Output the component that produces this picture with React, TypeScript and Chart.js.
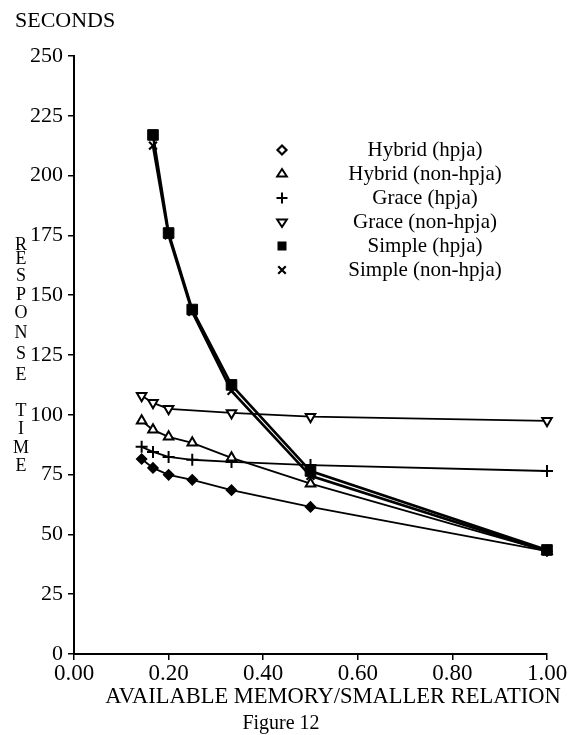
import React, { useEffect, useRef } from "react";
import { Chart, registerables } from "chart.js";

Chart.register(...registerables);

const W = 574;
const H = 735;
const SERIF = "'Liberation Serif', 'Times New Roman', serif";

// ---- data ----
const xValues = [0.143, 0.167, 0.2, 0.25, 0.333, 0.5, 1.0];
const hybridHpja = [81.5, 77.8, 74.9, 72.8, 68.5, 61.5, 43];
const hybridNonHpja = [97.5, 93.7, 90.8, 88.3, 82, 71.2, 43];
const graceHpja = [86.6, 84.5, 82.4, 81.2, 80.3, 79, 76.5];
const graceNonHpjaX = [0.143, 0.167, 0.2, 0.333, 0.5, 1.0];
const graceNonHpja = [108, 105, 102.5, 100.8, 99.2, 97.5];
const simpleX = [0.167, 0.2, 0.25, 0.333, 0.5, 1.0];
const simpleHpja = [217, 176, 144, 112.5, 76.5, 43.5];
const simpleNonHpja = [212.5, 175, 143, 110, 74.5, 43];

const yTicks = [0, 25, 50, 75, 100, 125, 150, 175, 200, 225, 250];
const xTicks = [0, 0.2, 0.4, 0.6, 0.8, 1.0];

const seriesNames = [
  "Hybrid (hpja)",
  "Hybrid (non-hpja)",
  "Grace (hpja)",
  "Grace (non-hpja)",
  "Simple (hpja)",
  "Simple (non-hpja)",
];
const yTitleLetters = ["R", "E", "S", "P", "O", "N", "S", "E", "T", "I", "M", "E"];
const yTitleLetterY = [245, 259, 276, 295, 313, 333, 354, 375, 411, 429, 448, 466];

const toPts = (xs: number[], ys: number[]) => xs.map((x, i) => ({ x, y: ys[i] }));

type MarkerStyle = {
  pointStyle: any;
  radius: number;
  fill: string;
  border: number;
  rotation?: number;
};

const markers: MarkerStyle[] = [
  { pointStyle: "rectRot", radius: 5, fill: "#000", border: 1.5 },
  { pointStyle: "triangle", radius: 5.5, fill: "#fff", border: 2 },
  { pointStyle: "cross", radius: 6, fill: "#000", border: 2 },
  { pointStyle: "triangle", radius: 5.5, fill: "#fff", border: 2, rotation: 180 },
  { pointStyle: "rect", radius: 7.5, fill: "#000", border: 1 },
  { pointStyle: "crossRot", radius: 5.5, fill: "#000", border: 2.2 },
];

function drawMarker(
  ctx: CanvasRenderingContext2D,
  style: string,
  r: number,
  rotation: number,
  x: number,
  y: number
) {
  ctx.beginPath();
  if (style === "rectRot") {
    ctx.moveTo(x, y - r);
    ctx.lineTo(x + r, y);
    ctx.lineTo(x, y + r);
    ctx.lineTo(x - r, y);
    ctx.closePath();
    ctx.fill();
    ctx.stroke();
  } else if (style === "triangle") {
    const dir = rotation === 180 ? -1 : 1;
    const h = r * 1.5;
    const half = r * 0.866;
    ctx.moveTo(x, y - dir * r);
    ctx.lineTo(x + half + 0.5, y + dir * (h - r));
    ctx.lineTo(x - half - 0.5, y + dir * (h - r));
    ctx.closePath();
    ctx.fill();
    ctx.stroke();
  } else if (style === "cross") {
    ctx.moveTo(x - r, y);
    ctx.lineTo(x + r, y);
    ctx.moveTo(x, y - r);
    ctx.lineTo(x, y + r);
    ctx.stroke();
  } else if (style === "crossRot") {
    const d = r * 0.75;
    ctx.moveTo(x - d, y - d);
    ctx.lineTo(x + d, y + d);
    ctx.moveTo(x + d, y - d);
    ctx.lineTo(x - d, y + d);
    ctx.stroke();
  } else if (style === "rect") {
    const s = r * 0.75;
    ctx.rect(x - s, y - s, 2 * s, 2 * s);
    ctx.fill();
  }
}

const decorPlugin = {
  id: "decor",
  afterDraw(chart: any) {
    const ctx: CanvasRenderingContext2D = chart.ctx;
    ctx.save();
    ctx.fillStyle = "#000";
    ctx.textBaseline = "middle";

    // top-left unit label
    ctx.font = `22px ${SERIF}`;
    ctx.textAlign = "left";
    ctx.fillText("SECONDS", 15, 21);

    // vertical stacked y-title
    ctx.font = `18px ${SERIF}`;
    ctx.textAlign = "center";
    yTitleLetters.forEach((ch, i) => ctx.fillText(ch, 21, yTitleLetterY[i]));

    // x-axis title & figure caption
    ctx.font = `22.5px ${SERIF}`;
    ctx.fillText("AVAILABLE MEMORY/SMALLER RELATION", 333, 697);
    ctx.font = `20px ${SERIF}`;
    ctx.fillText("Figure 12", 281, 724);

    // legend
    const legendY = [150, 174, 198, 222, 246, 270];
    seriesNames.forEach((name, i) => {
      const m = markers[i];
      ctx.save();
      ctx.lineWidth = i === 0 ? 2.2 : m.border;
      ctx.strokeStyle = "#000";
      ctx.fillStyle = i === 0 ? "#fff" : m.fill;
      const legendRadius = i === 4 ? 6 : m.radius - 0.5;
      drawMarker(ctx, m.pointStyle, legendRadius, m.rotation || 0, 282, legendY[i]);
      ctx.restore();
      ctx.font = `21px ${SERIF}`;
      ctx.textAlign = "center";
      ctx.fillStyle = "#000";
      ctx.fillText(name, 425, legendY[i]);
    });
    ctx.restore();
  },
};

export default function App() {
  const canvasRef = useRef<HTMLCanvasElement | null>(null);

  useEffect(() => {
    document.body.style.margin = "0";
    const canvas = canvasRef.current;
    if (!canvas) return;

    const seriesData = [
      toPts(xValues, hybridHpja),
      toPts(xValues, hybridNonHpja),
      toPts(xValues, graceHpja),
      toPts(graceNonHpjaX, graceNonHpja),
      toPts(simpleX, simpleHpja),
      toPts(simpleX, simpleNonHpja),
    ];

    const datasets = seriesNames.map((name, i) => {
      const m = markers[i];
      const isSimple = i >= 4;
      return {
        label: name,
        data: seriesData[i],
        borderColor: "#000",
        backgroundColor: m.fill,
        borderWidth: isSimple ? 2.6 : 1.8,
        pointStyle: m.pointStyle,
        pointRadius: m.radius,
        pointRotation: m.rotation || 0,
        pointBackgroundColor: m.fill,
        pointBorderColor: "#000",
        pointBorderWidth: m.border,
        tension: 0,
        fill: false,
        clip: 10,
      };
    });

    const chart = new Chart(canvas, {
      type: "line",
      data: { datasets },
      options: {
        animation: false,
        responsive: false,
        maintainAspectRatio: false,
        devicePixelRatio: 1,
        layout: { padding: { top: 56, right: 27, left: 0, bottom: 0 } },
        plugins: {
          legend: { display: false },
          tooltip: { enabled: false },
        },
        scales: {
          x: {
            type: "linear",
            min: 0,
            max: 1,
            afterBuildTicks: (s: any) => {
              s.ticks = xTicks.map((v) => ({ value: v }));
            },
            afterFit: (s: any) => {
              s.height = H - 654;
            },
            grid: {
              drawOnChartArea: false,
              drawTicks: true,
              tickLength: 6,
              color: "#000",
              lineWidth: 1.5,
            },
            border: { color: "#000", width: 2 },
            ticks: {
              color: "#000",
              font: { family: SERIF, size: 23 },
              padding: 0,
              maxRotation: 0,
              autoSkip: false,
              callback: (v: any) => Number(v).toFixed(2),
            },
          },
          y: {
            type: "linear",
            min: 0,
            max: 250,
            afterBuildTicks: (s: any) => {
              s.ticks = yTicks.map((v) => ({ value: v }));
            },
            afterFit: (s: any) => {
              s.width = 74;
            },
            grid: {
              drawOnChartArea: false,
              drawTicks: true,
              tickLength: 6,
              color: "#000",
              lineWidth: 1.5,
            },
            border: { color: "#000", width: 2 },
            ticks: {
              color: "#000",
              font: { family: SERIF, size: 22 },
              padding: 5,
              autoSkip: false,
              callback: (v: any) => String(v),
            },
          },
        },
      },
      plugins: [decorPlugin],
    } as any);

    return () => chart.destroy();
  }, []);

  return (
    <div style={{ position: "absolute", left: 0, top: 0, width: W, height: H, background: "#fff" }}>
      <canvas ref={canvasRef} width={W} height={H} style={{ width: W, height: H, display: "block" }} />
    </div>
  );
}
